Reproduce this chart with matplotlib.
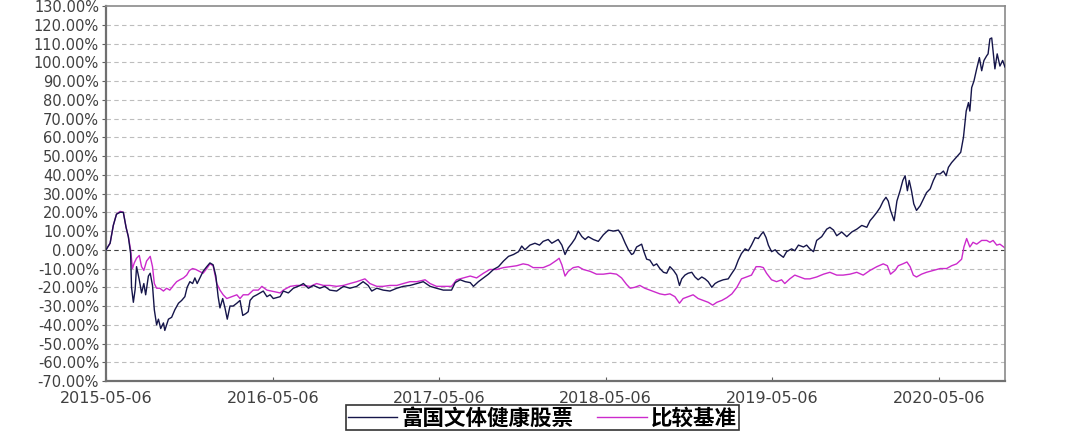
import numpy as np
import matplotlib
matplotlib.use("Agg")
import matplotlib.pyplot as plt
from matplotlib.ticker import FuncFormatter, MultipleLocator

plt.rcParams['font.family'] = ['Noto Sans CJK SC', 'DejaVu Sans']

start = np.datetime64('2015-05-06')
end_day = 1972
tick_labels = ['2015-05-06', '2016-05-06', '2017-05-06', '2018-05-06',
               '2019-05-06', '2020-05-06']

fund_name = '富国文体健康股票'
bench_name = '比较基准'

# days after 2015-05-06, cumulative return in %
fund_days = [0, 9, 16, 23, 31, 38, 44, 49, 54, 56, 60, 64, 67, 73, 78, 83, 87, 93, 97, 102,
             106, 111, 115, 120, 126, 129, 137, 144, 151, 159, 166, 173, 178, 184, 190, 195,
             200, 206, 213, 221, 228, 235, 241, 246, 250, 256, 261, 266, 272, 279, 287, 294,
             300, 307, 312, 316, 323, 331, 338, 345, 353, 360, 367, 382,
             389, 400, 411, 426, 433, 444, 455, 469, 480, 491, 506, 521, 535, 550, 564, 575,
             583, 594, 608, 623, 638, 652, 667, 682, 696, 711, 725, 740, 758,
             766, 777, 788, 799, 806, 817, 828, 839, 850, 861, 872, 883, 894, 905, 912, 919,
             930, 941, 951, 959, 970, 978, 985, 992, 1000, 1007, 1014, 1022, 1029, 1036,
             1044, 1051, 1058, 1069, 1080, 1091, 1102, 1113, 1124, 1131, 1139, 1146, 1153,
             1157, 1164, 1175, 1180, 1186, 1193, 1201, 1208, 1215, 1223, 1230, 1237, 1245,
             1252, 1258, 1263, 1270, 1277, 1285, 1292, 1299, 1307, 1314, 1321, 1329, 1336,
             1343, 1354, 1365, 1373, 1380, 1387, 1394, 1402, 1409, 1416, 1424, 1431, 1438,
             1442, 1448, 1453, 1460, 1468, 1475, 1486, 1493, 1504, 1511, 1519, 1530, 1537,
             1544, 1552, 1559, 1570, 1581, 1588, 1596, 1603, 1614, 1625, 1636, 1647, 1658,
             1669, 1676, 1683, 1691, 1698, 1705, 1711, 1716, 1721, 1729, 1735, 1742, 1748,
             1753, 1758, 1762, 1767, 1772, 1778, 1786, 1793, 1800, 1808, 1815, 1822, 1830,
             1837, 1843, 1848, 1855, 1866, 1875, 1881, 1887, 1892, 1895, 1899, 1904, 1910,
             1916, 1921, 1926, 1932, 1935, 1939, 1943, 1946, 1950, 1955, 1961, 1967, 1972]
fund_vals = [0, 3.5, 13, 19, 20, 20, 12, 7, -2, -20, -28, -21, -9, -16, -23, -18, -24, -14, -12.5, -19,
             -32, -40, -37, -42, -39, -43, -37, -36, -32, -28.5, -27, -25, -20, -17, -18, -15,
             -18, -15, -11.5, -9, -7, -8, -14, -25, -31, -26, -31, -37, -30, -30, -28.5, -27,
             -35, -34, -33, -27, -25, -24, -23, -22, -25, -24, -26, -25,
             -22, -23, -20.5, -19, -18, -20.5, -19, -20.5, -19.5, -21.5, -22, -19.5, -20.5, -19.5, -17, -19,
             -22, -20.5, -21.5, -22, -20.5, -19.5, -19, -18, -17, -19.5, -20.5, -21.5, -21.5,
             -17.5, -16, -17, -17.5, -19.5, -17, -15, -13, -10.5, -9, -6, -3.5, -2.5, -1, 2, 0,
             2.5, 3.5, 2.5, 4.5, 5.5, 3.5, 4.5, 5.5, 2.5, -2.5, 1, 3.5, 6, 10,
             7, 5.5, 7, 5.5, 4.5, 8, 10.5, 10, 10.5, 8, 3.5, 0, -2.5,
             -2, 1.5, 3, -1, -5, -5.5, -8.5, -7.5, -10, -12, -12.5, -9, -11,
             -13.5, -19, -15.5, -13.5, -12.5, -12, -14.5, -16, -14.5, -15.5, -17, -20, -18,
             -17, -16, -15.5, -12.5, -10, -5.5, -2, 0.5, -0.5, 2.5, 6.5, 6, 8.5,
             9.5, 6.5, 2.5, -1, 0, -2, -4, -1, 0.5, -0.5, 2.5, 1.5, 2.5,
             0.5, -1, 5, 7, 11, 12, 10.5, 7.5, 9.5, 7, 9.5, 11, 13,
             12, 15.5, 17.5, 20, 22.5, 26, 28, 26, 21, 15.5, 26, 31.5, 37,
             39.5, 31.5, 37, 31.5, 24.5, 21, 23.5, 27, 30.5, 32.5, 37, 40.5, 40.5,
             42, 39.5, 44, 46.5, 49.5, 52, 60, 74, 78.5, 74, 86.5, 90, 96.5,
             102.5, 95.5, 101, 103.5, 104.5, 112.5, 113, 106, 96.5, 104.5, 98, 101, 97.5]

bench_days = [0, 9, 16, 23, 31, 38, 44, 49, 54, 58, 62, 67, 73, 78, 83, 89, 97, 102, 106, 111,
              118, 126, 133, 140, 148, 155, 162, 170, 177, 183, 190, 197, 205, 213, 221, 228,
              235, 243, 250, 257, 265, 276, 287, 294, 301, 312, 323, 334, 342, 353, 363, 382,
              389, 404, 418, 433, 448, 462, 477, 491, 506, 521, 535, 550, 568, 579, 594, 608,
              623, 638, 652, 667, 682, 700, 711, 725, 740, 758,
              769, 784, 799, 813, 828, 842, 857, 872, 886, 901, 915, 926, 937, 948, 959, 974,
              989, 994, 1000, 1007, 1014, 1025, 1036, 1047, 1062, 1076, 1091, 1106, 1120,
              1131, 1142, 1150, 1160, 1171, 1182, 1193, 1204, 1215, 1226, 1237, 1248, 1258,
              1266, 1277, 1288, 1299, 1310, 1321, 1331, 1340, 1351, 1362, 1373, 1384, 1394,
              1405, 1416, 1426, 1435, 1442, 1449, 1460, 1471, 1482, 1489, 1500, 1511, 1522,
              1533, 1544, 1559, 1574, 1588, 1603, 1617, 1632, 1647, 1661, 1676, 1691, 1705,
              1714, 1721, 1731, 1738, 1748, 1757, 1764, 1771, 1778, 1789, 1800, 1815, 1830,
              1844, 1855, 1866, 1877, 1882, 1888, 1895, 1902, 1910, 1921, 1932, 1939, 1946,
              1954, 1961, 1972]
bench_vals = [0, 3.5, 13, 19, 20.5, 20, 12, 7, 0, -10, -7, -4.5, -3, -9, -11, -6, -3.5, -9, -18, -20.5,
              -20.5, -22, -20.5, -21.5, -19, -17, -16, -15, -13.5, -11, -10, -10.5, -11.5, -12.5, -10, -7.5,
              -8.5, -18, -21.5, -24, -26, -25, -24, -26, -24, -24, -21.5, -21.5, -19.5, -21.5, -22, -23,
              -21.5, -19.5, -19, -19, -19.5, -18, -19, -19, -19.5, -19, -18, -17, -15.5, -18, -19.5, -19.5,
              -19, -19, -18, -17, -17, -16, -18, -19.5, -19.5, -19.5,
              -16, -15, -14, -15, -12.5, -10.5, -10.5, -9.5, -9, -8.5, -7.5, -8, -9.5, -9.5, -9.5, -8,
              -5.5, -4.5, -8, -14, -11.5, -9.5, -9, -10.5, -11.5, -13, -13, -12.5, -13,
              -15, -18.5, -20.5, -20, -19, -20.5, -21.5, -22.5, -23.5, -24, -23.5, -25, -28.5,
              -26, -25, -24, -26, -27, -28, -29.5, -28, -27, -25.5, -23.5, -20, -15.5,
              -14.5, -13.5, -9, -9, -9.5, -12.5, -16, -17, -16, -18, -15.5, -13.5, -14.5,
              -15.5, -15.5, -14.5, -13, -12, -13.5, -13.5, -13, -12, -13.5, -11, -9, -7.5,
              -8.5, -13, -11, -8.5, -7.5, -6.5, -9, -13.5, -14.5, -13, -12, -11, -10,
              -10, -8.5, -7.5, -5, 1.5, 6, 1.5, 4, 3, 5, 5, 4, 5,
              2.5, 3, 1]

fund_dates = start + np.array(fund_days, dtype='timedelta64[D]')
bench_dates = start + np.array(bench_days, dtype='timedelta64[D]')
tick_dates = np.array(tick_labels, dtype='datetime64[D]')

fig = plt.figure(figsize=(10.74, 4.33), dpi=100)
ax = fig.add_axes([0.0987, 0.120, 0.837, 0.866])

ax.plot(fund_dates, fund_vals, color='#15154a', lw=1.0, label=fund_name, zorder=3)
ax.plot(bench_dates, bench_vals, color='#cc2acc', lw=1.0, label=bench_name, zorder=2)

ax.set_xlim(start, start + np.timedelta64(end_day, 'D'))
ax.set_ylim(-70, 130)
ax.yaxis.set_major_locator(MultipleLocator(10))
ax.yaxis.set_major_formatter(FuncFormatter(lambda v, p: '%.2f%%' % v))
ax.set_xticks(tick_dates)
ax.set_xticklabels(tick_labels)

for v in range(-60, 130, 10):
    if v == 0:
        ax.axhline(v, color='#404040', lw=0.8, ls=(0, (4, 3)), zorder=1)
    else:
        ax.axhline(v, color='#bdbdbd', lw=0.8, ls=(0, (4, 3)), zorder=1)

ax.tick_params(axis='y', direction='out', length=3, color='#606060',
               labelsize=10.5, labelcolor='#404040', pad=2)
ax.tick_params(axis='x', direction='in', length=3, color='#606060',
               labelsize=11.5, labelcolor='#404040', pad=7)
for lab in ax.get_xticklabels() + ax.get_yticklabels():
    lab.set_fontfamily('DejaVu Sans')
for s in ['top', 'right']:
    ax.spines[s].set_color('#8a8a8a')
    ax.spines[s].set_linewidth(1.2)
for s in ['left', 'bottom']:
    ax.spines[s].set_color('#707070')
    ax.spines[s].set_linewidth(1.6)

leg = fig.legend(loc='center', bbox_to_anchor=(0.505, 0.035), ncol=2,
                 frameon=True, fancybox=False, handlelength=2.3, handletextpad=0.2,
                 columnspacing=1.1, borderpad=0.1,
                 prop={'family': ['Noto Sans CJK SC', 'DejaVu Sans'], 'size': 15.5, 'weight': 'bold'})
leg.get_frame().set_edgecolor('#000000')
leg.get_frame().set_linewidth(1.2)

fig.savefig('out.png', dpi=100)
